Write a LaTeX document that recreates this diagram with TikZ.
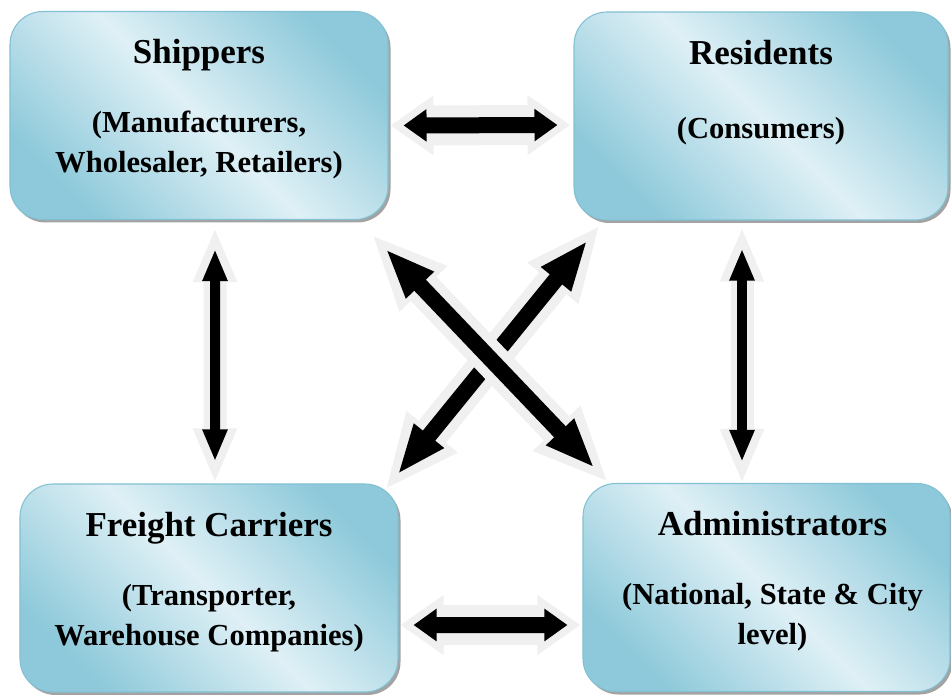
\documentclass[tikz,border=0pt]{standalone}
\usepackage{fontspec}
\setmainfont{Liberation Serif}
\usetikzlibrary{arrows.meta, positioning, shadows}

\definecolor{boxdark}{RGB}{141,201,218}
\definecolor{boxlight}{RGB}{223,240,246}
\definecolor{boxedge}{RGB}{130,193,211}
\definecolor{glow}{RGB}{240,240,240}

\begin{document}
\begin{tikzpicture}[
  box/.style={rounded corners=0.66cm, draw=boxedge, line width=0.6pt,
    top color=boxdark, bottom color=boxdark, middle color=boxlight, shading angle=-45,
    drop shadow={shadow xshift=0.05cm, shadow yshift=-0.06cm, fill=black!45, opacity=0.8},
    minimum height=4.16cm, inner sep=0pt},
  title/.style={anchor=base, inner sep=0pt, font=\fontsize{19.9}{24}\selectfont\bfseries},
  sub/.style={anchor=north, align=center, inner sep=0pt, font=\fontsize{17.4}{22.8}\selectfont\bfseries},
  harrow/.style 2 args={draw=black, line width=0.32cm,
    {Triangle[length=0.46cm,width=0.62cm]}-{Triangle[length=0.46cm,width=0.62cm]},
    shorten <=#1, shorten >=#2,
    preaction={draw=glow, line width=0.8cm,
      {Triangle[length=0.86cm,width=1.14cm]}-{Triangle[length=0.86cm,width=1.14cm]},
      shorten <=#1-0.26cm, shorten >=#2-0.26cm}},
  varrow/.style 2 args={draw=black, line width=0.2cm,
    {Triangle[length=0.64cm,width=0.46cm]}-{Triangle[length=0.64cm,width=0.46cm]},
    shorten <=#1, shorten >=#2,
    preaction={draw=glow, line width=0.46cm,
      {Triangle[length=1.1cm,width=0.8cm]}-{Triangle[length=1.1cm,width=0.8cm]},
      shorten <=#1-0.44cm, shorten >=#2-0.44cm}},
  xarrow/.style={draw=black, line width=0.32cm,
    {Triangle[length=1.0cm,width=0.7cm]}-{Triangle[length=1.0cm,width=0.7cm]},
    preaction={draw=glow, line width=0.7cm,
      {Triangle[length=1.5cm,width=1.2cm]}-{Triangle[length=1.5cm,width=1.2cm]},
      shorten <=-0.4cm, shorten >=-0.4cm}}
]
\useasboundingbox (0,0) rectangle (19.02,13.88);

% boxes
\node[box, minimum width=7.56cm] (ship) at (3.98,11.57) {};
\node[box, minimum width=7.48cm] (res) at (15.22,11.56) {};
\node[box, minimum width=7.56cm] (frt) at (4.18,2.12) {};
\node[box, minimum width=7.34cm] (adm) at (15.33,2.13) {};

% texts
\node[title] (ship-t) at ([yshift=-1.06cm]ship.north) {Shippers};
\node[sub] (ship-s) at ([yshift=-2.0cm]ship.north) {(Manufacturers,\\Wholesaler, Retailers)};
\node[title] (res-t) at ([yshift=-1.06cm]res.north) {Residents};
\node[sub] (res-s) at ([yshift=-2.1cm]res.north) {(Consumers)};
\node[title] (frt-t) at ([yshift=-1.06cm]frt.north) {Freight Carriers};
\node[sub] (frt-s) at ([yshift=-2.0cm]frt.north) {(Transporter,\\Warehouse Companies)};
\node[title] (adm-t) at ([xshift=0.12cm, yshift=-1.06cm]adm.north) {Administrators};
\node[sub] (adm-s) at ([xshift=0.12cm, yshift=-2.0cm]adm.north) {(National, State \& City\\level)};

% links
\draw[harrow={0.3cm}{0.32cm}] ([yshift=-0.2cm]ship.east) -- ([yshift=-0.18cm]res.west);
\draw[harrow={0.3cm}{0.3cm}] ([yshift=-0.74cm]frt.east) -- ([yshift=-0.75cm]adm.west);
\draw[varrow={0.58cm}{0.44cm}] ([xshift=0.32cm]ship.south) -- ([xshift=0.12cm]frt.north);
\draw[varrow={0.56cm}{0.42cm}] ([xshift=-0.38cm]res.south) -- ([xshift=-0.49cm]adm.north);
\draw[xarrow] ([shift={(0.28,-0.40)}]res.south west) -- ([shift={(-0.02,0.18)}]frt.north east);
\draw[xarrow] ([shift={(-0.06,-0.58)}]ship.south east) -- ([shift={(0.24,0.30)}]adm.north west);
\end{tikzpicture}
\end{document}
